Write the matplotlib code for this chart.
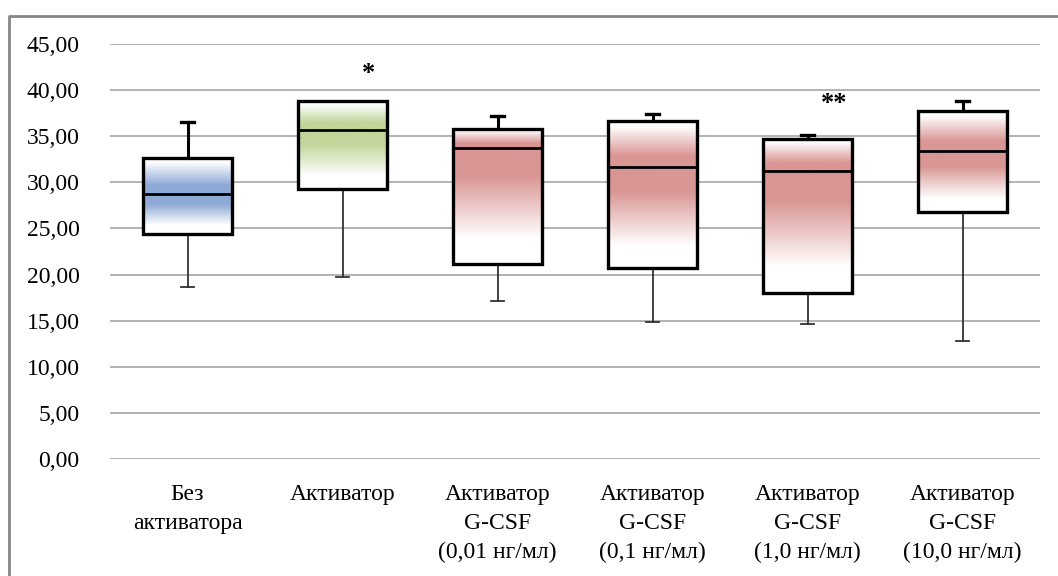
import numpy as np
import matplotlib
matplotlib.use("Agg")
from matplotlib import pyplot as plt
from matplotlib.patches import Rectangle
from matplotlib.lines import Line2D
from matplotlib.colors import to_rgb

plt.rcParams['font.family'] = ['Liberation Serif', 'DejaVu Serif']

# group labels and box statistics
labels = ["Без\nактиватора", "Активатор", "Активатор\nG-CSF\n(0,01 нг/мл)",
          "Активатор\nG-CSF\n(0,1 нг/мл)", "Активатор\nG-CSF\n(1,0 нг/мл)",
          "Активатор\nG-CSF\n(10,0 нг/мл)"]
whisk_lo = [18.6, 19.7, 17.1, 14.9, 14.6, 12.8]
q1 = [24.4, 29.3, 21.1, 20.7, 18.0, 26.8]
median = [28.7, 35.7, 33.7, 31.7, 31.2, 33.4]
q3 = [32.6, 38.8, 35.8, 36.6, 34.7, 37.7]
whisk_hi = [36.5, 38.8, 37.2, 37.4, 35.1, 38.8]
marks = ["", "*", "", "", "**", ""]
mark_y = [0, 41.8, 0, 0, 38.5, 0]
fills = ["#8EAAD6", "#C2D69A", "#D99694", "#D99694", "#D99694", "#D99694"]

fig = plt.figure(figsize=(10.58, 5.76), dpi=100)
ax = fig.add_axes([110 / 1058, 117 / 576, 930 / 1058, 415 / 576])

n = len(labels)
ax.set_xlim(-0.5, n - 0.5)
ax.set_ylim(0, 45)
ax.set_yticks(np.arange(0, 46, 5))
ax.yaxis.set_major_formatter(matplotlib.ticker.FuncFormatter(lambda v, p: ("%.2f" % v).replace(".", ",")))
ax.set_xticks(range(n))
ax.set_xticklabels(labels, fontsize=17, linespacing=1.5)
ax.tick_params(axis='y', labelsize=17, length=0, pad=22)
ax.tick_params(axis='x', length=0, pad=18)
for s in ax.spines.values():
    s.set_visible(False)
ax.grid(axis='y', color='#A6A6A6', lw=1.2)
ax.set_axisbelow(True)


def gradient(c, x0, x1, y0, y1, t_pts, a_pts):
    # vertical fade from colour c to white; t runs from y0 to y1
    t = np.linspace(0, 1, 200)
    k = np.interp(t, t_pts, a_pts)[:, None]
    rgb = np.array(to_rgb(c))[None, :] * k + (1 - k)
    img = np.repeat(rgb[:, None, :], 2, axis=1)
    ax.imshow(img, extent=[x0, x1, y0, y1], origin='lower', aspect='auto',
              interpolation='bilinear', zorder=2)


w = 0.57
cap = 0.045
for i in range(n):
    x0, x1 = i - w / 2, i + w / 2
    # lower part: colour at the median, white towards Q1
    gradient(fills[i], x0, x1, q1[i], median[i], [0, 0.22, 0.75, 1], [0, 0, 1, 1])
    # upper part: colour at the median, white towards Q3
    gradient(fills[i], x0, x1, median[i], q3[i], [0, 0.25, 0.88, 1], [1, 1, 0, 0])
    ax.add_patch(Rectangle((x0, q1[i]), w, q3[i] - q1[i], fill=False,
                           ec='black', lw=2.4, zorder=4))
    ax.plot([x0, x1], [median[i], median[i]], color='black', lw=2, zorder=4)
    # whiskers
    ax.plot([i, i], [whisk_lo[i], q1[i]], color='#333333', lw=1.3, zorder=3)
    ax.plot([i - cap, i + cap], [whisk_lo[i]] * 2, color='#333333', lw=1.3, zorder=3)
    if whisk_hi[i] > q3[i]:
        ax.plot([i, i], [q3[i], whisk_hi[i]], color='black', lw=2.2, zorder=3)
        ax.plot([i - cap, i + cap], [whisk_hi[i]] * 2, color='black', lw=2.4, zorder=3)
    if marks[i]:
        ax.text(i + 0.17, mark_y[i], marks[i], ha='center', va='center',
                fontsize=19, fontweight='bold')

# outer frame of the chart area
fig.add_artist(Line2D([9 / 1058, 9 / 1058, 1], [0, 1 - 16 / 576, 1 - 16 / 576],
                      color='#858585', lw=2, transform=fig.transFigure))

fig.savefig("out.png", dpi=100)
